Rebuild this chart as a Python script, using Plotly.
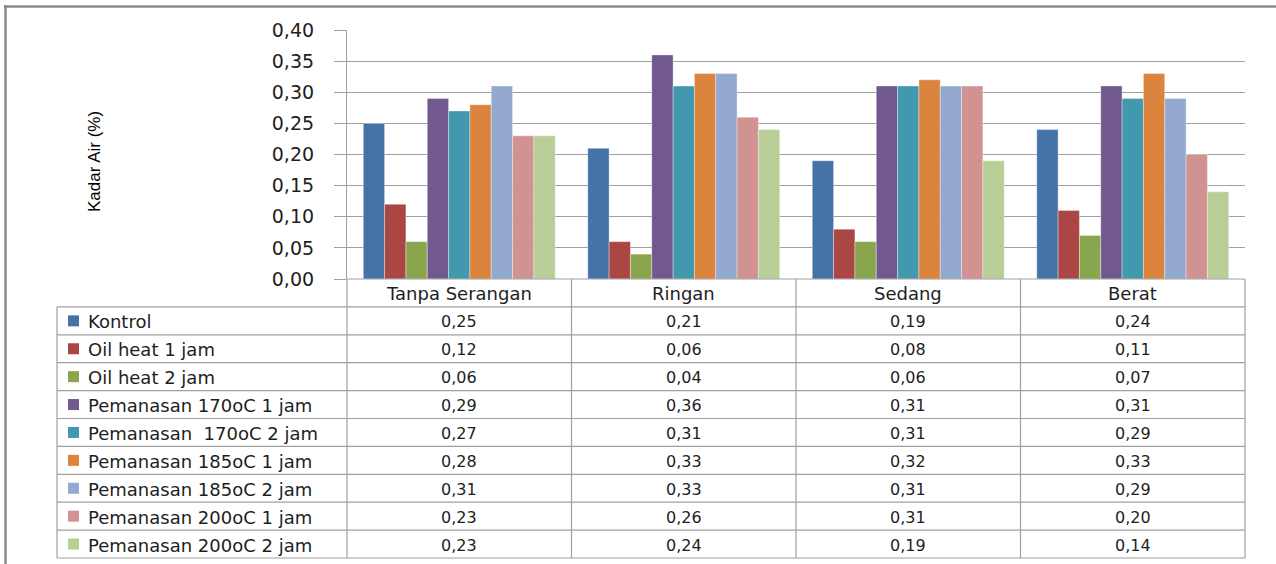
import plotly.graph_objects as go

# Categories (attack levels) and series values (Kadar Air, %)
categories = ["Tanpa Serangan", "Ringan", "Sedang", "Berat"]
series_names = [
    "Kontrol",
    "Oil heat 1 jam",
    "Oil heat 2 jam",
    "Pemanasan 170oC 1 jam",
    "Pemanasan\u00a0 170oC 2 jam",
    "Pemanasan 185oC 1 jam",
    "Pemanasan 185oC 2 jam",
    "Pemanasan 200oC 1 jam",
    "Pemanasan 200oC 2 jam",
]
kontrol = [0.25, 0.21, 0.19, 0.24]
oil_heat_1 = [0.12, 0.06, 0.08, 0.11]
oil_heat_2 = [0.06, 0.04, 0.06, 0.07]
pem_170_1 = [0.29, 0.36, 0.31, 0.31]
pem_170_2 = [0.27, 0.31, 0.31, 0.29]
pem_185_1 = [0.28, 0.33, 0.32, 0.33]
pem_185_2 = [0.31, 0.33, 0.31, 0.29]
pem_200_1 = [0.23, 0.26, 0.31, 0.20]
pem_200_2 = [0.23, 0.24, 0.19, 0.14]
series_values = [kontrol, oil_heat_1, oil_heat_2, pem_170_1, pem_170_2,
                 pem_185_1, pem_185_2, pem_200_1, pem_200_2]
colors = ["#4572A7", "#AA4643", "#89A54E", "#71588F", "#4198AF",
          "#DB843D", "#93A9CF", "#D19392", "#B9CD96"]
y_ticks = [0.0, 0.05, 0.10, 0.15, 0.20, 0.25, 0.30, 0.35, 0.40]

W, H = 1276, 564
PL, PR, PT, PB = 347, 1245, 30, 279   # plot area in pixels
ROW_H = 27.9
GRID = "#a0a0a0"
TEXT = "#1e1e1e"
FONT = "DejaVu Sans"


def fx(x):
    return (x - PL) / (PR - PL)


def fy(y):
    return (PB - y) / (PB - PT)


def fmt(v):
    return f"{v:.2f}".replace(".", ",")


fig = go.Figure()
for name, vals, col in zip(series_names, series_values, colors):
    fig.add_trace(go.Bar(x=categories, y=vals, name=name,
                         marker=dict(color=col, line=dict(width=0.6, color="rgba(255,255,255,0.6)"))))

shapes = []
annotations = []

# outer frame (top and left edges)
shapes.append(dict(type="line", xref="paper", yref="paper", x0=fx(4), x1=fx(W), y0=fy(6.5), y1=fy(6.5),
                   line=dict(color="#8a8a8a", width=2.5)))
shapes.append(dict(type="line", xref="paper", yref="paper", x0=fx(5.5), x1=fx(5.5), y0=fy(5), y1=fy(H + 2),
                   line=dict(color="#8a8a8a", width=2.5)))

n_rows = len(series_names)
row_edges = [PB + ROW_H * k for k in range(n_rows + 2)]
TL = 57
col_w = (PR - PL) / len(categories)

# horizontal table lines
for k, y in enumerate(row_edges):
    x0 = PL if k == 0 else TL
    shapes.append(dict(type="line", xref="paper", yref="paper", x0=fx(x0), x1=fx(PR), y0=fy(y), y1=fy(y),
                       line=dict(color=GRID, width=1.2)))
# vertical table lines
shapes.append(dict(type="line", xref="paper", yref="paper", x0=fx(TL), x1=fx(TL),
                   y0=fy(row_edges[1]), y1=fy(row_edges[-1]), line=dict(color=GRID, width=1.2)))
for j in range(len(categories) + 1):
    x = PL + col_w * j
    shapes.append(dict(type="line", xref="paper", yref="paper", x0=fx(x), x1=fx(x),
                       y0=fy(PB), y1=fy(row_edges[-1]), line=dict(color=GRID, width=1.2)))

# header row with category names
for j, cat in enumerate(categories):
    annotations.append(dict(x=j, xref="x", y=fy(PB + ROW_H / 2 + 1), yref="paper", text=cat,
                            xanchor="center", yanchor="middle", showarrow=False,
                            font=dict(family=FONT, size=18, color=TEXT)))

# series rows: colour key, name and values
for i, (name, vals, col) in enumerate(zip(series_names, series_values, colors)):
    yc = row_edges[i + 1] + ROW_H / 2
    shapes.append(dict(type="rect", xref="paper", yref="paper", x0=fx(68), x1=fx(79),
                       y0=fy(yc - 5.5), y1=fy(yc + 5.5), line=dict(width=0), fillcolor=col))
    annotations.append(dict(x=fx(86), xref="paper", y=fy(yc + 1), yref="paper", text=name,
                            xanchor="left", yanchor="middle", showarrow=False,
                            font=dict(family=FONT, size=18, color=TEXT)))
    for j, v in enumerate(vals):
        annotations.append(dict(x=j, xref="x", y=fy(yc + 1), yref="paper", text=fmt(v),
                                xanchor="center", yanchor="middle", showarrow=False,
                                font=dict(family=FONT, size=16, color=TEXT)))

# y-axis title
annotations.append(dict(x=fx(95), xref="paper", y=fy(162), yref="paper", text="Kadar Air (%)",
                        textangle=-90, xanchor="center", yanchor="middle", showarrow=False,
                        font=dict(family="Liberation Sans", size=17, color="#000000")))

fig.update_layout(
    width=W, height=H,
    margin=dict(l=PL, r=W - PR, t=PT, b=H - PB),
    paper_bgcolor="white", plot_bgcolor="white",
    barmode="group", bargap=0.145, bargroupgap=0,
    showlegend=False,
    separators=",.",
    shapes=shapes, annotations=annotations,
    xaxis=dict(showticklabels=False, showgrid=False, zeroline=False, showline=False,
               range=[-0.5, len(categories) - 0.5], fixedrange=True),
    yaxis=dict(range=[0, 0.4], tickvals=y_ticks, tickformat=".2f",
               showgrid=True, gridcolor=GRID, gridwidth=1.2, zeroline=False,
               showline=True, linecolor=GRID, linewidth=1.2,
               ticks="outside", ticklen=12, tickcolor=GRID, tickwidth=1.2,
               ticklabelstandoff=16,
               tickfont=dict(family=FONT, size=19, color=TEXT), fixedrange=True),
)

fig.write_html("out.html")
